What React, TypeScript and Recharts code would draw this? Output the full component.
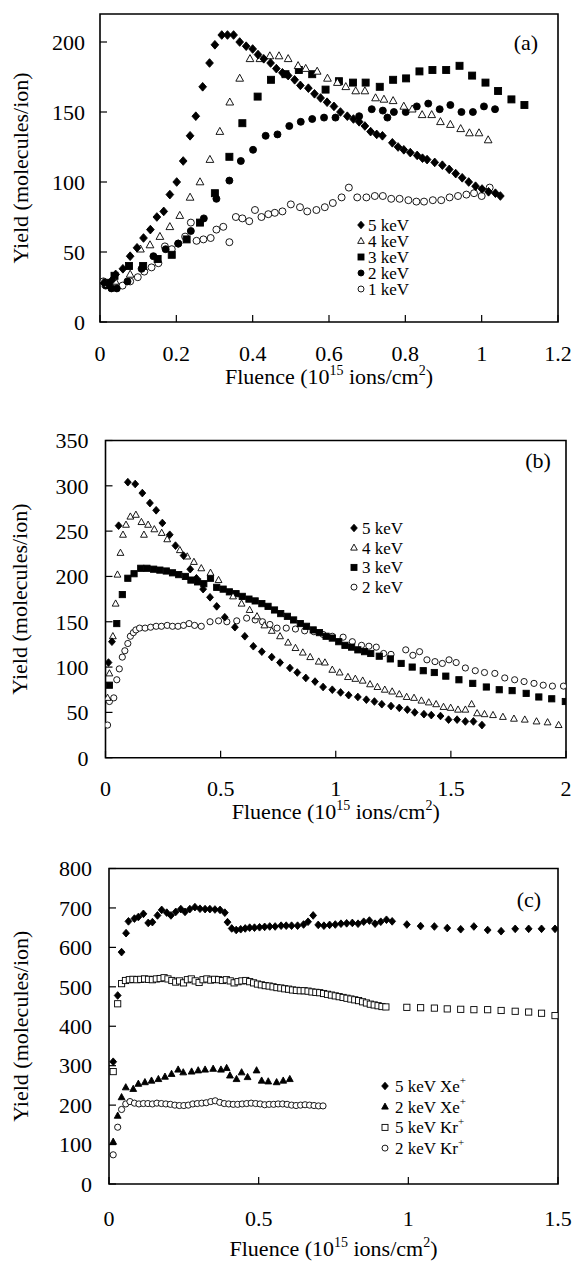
import React from 'react';
import { ScatterChart, Scatter, XAxis, YAxis, ReferenceArea } from 'recharts';

type Pt = [number, number];
type Kind = 'diamond' | 'triangle' | 'square' | 'circle';

const FONT = "'Liberation Serif', 'Times New Roman', Times, serif";

// ---- panel (a) ----
const A_5KEV: Pt[] = [
  [0.010, 28], [0.022, 27], [0.032, 30], [0.041, 34], [0.060, 38], [0.079, 47], [0.097, 53], [0.114, 60],
  [0.132, 66], [0.149, 75], [0.167, 79], [0.183, 91], [0.201, 100], [0.218, 115], [0.236, 133], [0.251, 147],
  [0.269, 168], [0.287, 185], [0.301, 198], [0.319, 205], [0.334, 205], [0.350, 205], [0.366, 200], [0.383, 197],
  [0.400, 195], [0.414, 191], [0.429, 188], [0.447, 185], [0.462, 181], [0.478, 178], [0.493, 176], [0.510, 173],
  [0.525, 169], [0.546, 167], [0.562, 163], [0.578, 160], [0.595, 157], [0.613, 154], [0.630, 150], [0.648, 147],
  [0.664, 145], [0.679, 143], [0.694, 140], [0.709, 136], [0.725, 134], [0.740, 133], [0.766, 128], [0.781, 125],
  [0.796, 123], [0.813, 121], [0.831, 119], [0.845, 117], [0.857, 116], [0.877, 114], [0.897, 112], [0.915, 109],
  [0.932, 106], [0.949, 103], [0.966, 100], [0.984, 97], [1.001, 95], [1.018, 93], [1.036, 92], [1.049, 90],
];
const A_4KEV: Pt[] = [
  [0.015, 27], [0.040, 29], [0.079, 34], [0.106, 52], [0.131, 55], [0.157, 61], [0.183, 68], [0.209, 76],
  [0.236, 89], [0.262, 100], [0.288, 116], [0.314, 136], [0.340, 157], [0.366, 174], [0.393, 188], [0.419, 188],
  [0.445, 190], [0.469, 190], [0.493, 188], [0.519, 183], [0.539, 181], [0.569, 179], [0.596, 174], [0.622, 171],
  [0.644, 168], [0.670, 165], [0.694, 165], [0.722, 160], [0.744, 159], [0.768, 158], [0.796, 154], [0.818, 152],
  [0.844, 148], [0.869, 148], [0.892, 143], [0.918, 141], [0.945, 138], [0.968, 135], [0.993, 135], [1.017, 130],
];
const A_3KEV: Pt[] = [
  [0.020, 28], [0.038, 33], [0.076, 40], [0.113, 40], [0.151, 45], [0.188, 48], [0.227, 59], [0.262, 71],
  [0.301, 92], [0.339, 118], [0.373, 142], [0.413, 161], [0.448, 173], [0.486, 177], [0.521, 180], [0.556, 177],
  [0.591, 166], [0.626, 172], [0.663, 171], [0.696, 171], [0.733, 168], [0.768, 173], [0.802, 174], [0.837, 179],
  [0.871, 180], [0.907, 180], [0.942, 183], [0.975, 176], [1.010, 171], [1.043, 165], [1.078, 159], [1.112, 155],
];
const A_2KEV: Pt[] = [
  [0.015, 26], [0.030, 24], [0.044, 24], [0.072, 29], [0.109, 38], [0.140, 47], [0.172, 52], [0.205, 56],
  [0.238, 65], [0.272, 74], [0.305, 88], [0.339, 101], [0.369, 115], [0.401, 123], [0.434, 133], [0.465, 134],
  [0.496, 140], [0.526, 143], [0.556, 145], [0.587, 146], [0.617, 146], [0.679, 147], [0.712, 152], [0.741, 151],
  [0.753, 146], [0.770, 150], [0.801, 150], [0.830, 154], [0.860, 156], [0.890, 152], [0.918, 155], [0.947, 150],
  [0.977, 150], [1.006, 154], [1.035, 152],
];
const A_1KEV: Pt[] = [
  [0.009, 29], [0.025, 26], [0.039, 25], [0.059, 26], [0.079, 29], [0.099, 32], [0.116, 36], [0.135, 39],
  [0.153, 42], [0.170, 54], [0.188, 52], [0.205, 56], [0.223, 61], [0.238, 71], [0.253, 58], [0.271, 59],
  [0.290, 60], [0.305, 66], [0.323, 68], [0.339, 57], [0.356, 75], [0.373, 74], [0.391, 72], [0.406, 80],
  [0.423, 75], [0.441, 77], [0.458, 78], [0.478, 79], [0.500, 84], [0.524, 82], [0.543, 79], [0.567, 80],
  [0.589, 82], [0.610, 85], [0.633, 89], [0.652, 96], [0.674, 89], [0.698, 89], [0.720, 90], [0.741, 90],
  [0.763, 88], [0.785, 88], [0.808, 87], [0.829, 86], [0.849, 86], [0.872, 87], [0.894, 87], [0.916, 89],
  [0.938, 90], [0.960, 91], [0.980, 92], [1.000, 90], [1.021, 96],
];

// ---- panel (b) ----
const B_5KEV: Pt[] = [
  [0.013, 105], [0.028, 128], [0.057, 256], [0.097, 304], [0.129, 302], [0.160, 292], [0.193, 281], [0.220, 273],
  [0.247, 259], [0.279, 246], [0.304, 234], [0.339, 223], [0.368, 208], [0.395, 198], [0.424, 186], [0.454, 177],
  [0.483, 167], [0.518, 155], [0.562, 144], [0.605, 134], [0.642, 123], [0.679, 117], [0.722, 111], [0.758, 105],
  [0.801, 99], [0.833, 94], [0.870, 88], [0.910, 84], [0.945, 78], [0.985, 75], [1.021, 72], [1.056, 69],
  [1.096, 67], [1.133, 64], [1.168, 62], [1.200, 59], [1.240, 57], [1.276, 55], [1.311, 53], [1.343, 50],
  [1.383, 48], [1.415, 47], [1.455, 46], [1.490, 42], [1.527, 42], [1.563, 40], [1.598, 40], [1.635, 36],
];
const B_4KEV: Pt[] = [
  [0.009, 66], [0.017, 93], [0.032, 134], [0.044, 170], [0.052, 202], [0.065, 226], [0.076, 246], [0.089, 257],
  [0.108, 266], [0.132, 268], [0.156, 260], [0.167, 246], [0.185, 257], [0.212, 252], [0.244, 248], [0.268, 241],
  [0.323, 229], [0.355, 222], [0.384, 216], [0.416, 209], [0.456, 204], [0.491, 196], [0.554, 178], [0.591, 170],
  [0.626, 163], [0.658, 156], [0.690, 146], [0.722, 140], [0.758, 134], [0.793, 127], [0.825, 121], [0.857, 116],
  [0.889, 111], [0.926, 106], [0.953, 105], [0.985, 97], [1.017, 94], [1.053, 89], [1.085, 87], [1.117, 85],
  [1.149, 81], [1.181, 78], [1.213, 75], [1.245, 73], [1.276, 70], [1.308, 67], [1.340, 66], [1.372, 63],
  [1.404, 61], [1.436, 59], [1.468, 56], [1.499, 55], [1.531, 53], [1.563, 53], [1.590, 59], [1.614, 49],
  [1.646, 48], [1.683, 47], [1.726, 45], [1.774, 43], [1.821, 42], [1.872, 40], [1.920, 39], [1.968, 36],
];
const B_3KEV: Pt[] = [
  [0.017, 80], [0.049, 148], [0.073, 180], [0.097, 198], [0.124, 203], [0.153, 209], [0.180, 209], [0.209, 208],
  [0.236, 207], [0.264, 206], [0.291, 204], [0.318, 202], [0.347, 200], [0.371, 196], [0.400, 194], [0.427, 192],
  [0.456, 198], [0.483, 188], [0.511, 186], [0.538, 183], [0.567, 181], [0.594, 178], [0.623, 175], [0.650, 173],
  [0.679, 170], [0.706, 167], [0.734, 163], [0.761, 159], [0.790, 156], [0.817, 152], [0.846, 148], [0.873, 145],
  [0.902, 141], [0.929, 138], [0.958, 134], [0.985, 132], [1.013, 128], [1.040, 124], [1.069, 122], [1.096, 119],
  [1.125, 117], [1.152, 115], [1.189, 112], [1.237, 109], [1.284, 104], [1.332, 100], [1.380, 96], [1.428, 94],
  [1.478, 90], [1.535, 86], [1.595, 82], [1.654, 78], [1.710, 75], [1.766, 74], [1.827, 71], [1.882, 67],
  [1.938, 65], [1.997, 62],
];
const B_2KEV: Pt[] = [
  [0.009, 36], [0.017, 62], [0.036, 66], [0.049, 86], [0.060, 98], [0.073, 111], [0.084, 118], [0.097, 126],
  [0.108, 134], [0.121, 138], [0.132, 141], [0.148, 143], [0.172, 143], [0.196, 144], [0.220, 145], [0.243, 145],
  [0.268, 146], [0.291, 145], [0.315, 145], [0.339, 146], [0.363, 148], [0.387, 146], [0.416, 145], [0.454, 150],
  [0.491, 151], [0.527, 150], [0.570, 151], [0.613, 154], [0.650, 152], [0.682, 150], [0.714, 147], [0.745, 143],
  [0.785, 143], [0.825, 142], [0.865, 140], [0.905, 139], [0.945, 136], [0.985, 134], [1.032, 133], [1.072, 128],
  [1.112, 124], [1.144, 123], [1.176, 122], [1.208, 115], [1.240, 114], [1.304, 119], [1.335, 113], [1.364, 117],
  [1.396, 108], [1.431, 106], [1.463, 104], [1.492, 108], [1.523, 105], [1.563, 99], [1.606, 96], [1.646, 94],
  [1.691, 93], [1.734, 88], [1.777, 86], [1.818, 84], [1.861, 82], [1.901, 80], [1.941, 79], [1.989, 79],
];

// ---- panel (c) ----
const C_XE5: Pt[] = [
  [0.014, 310], [0.029, 478], [0.042, 588], [0.057, 636], [0.065, 666], [0.085, 673], [0.098, 677], [0.115, 685],
  [0.131, 662], [0.145, 664], [0.162, 681], [0.176, 695], [0.193, 688], [0.207, 681], [0.223, 690], [0.240, 697],
  [0.254, 690], [0.270, 697], [0.287, 702], [0.304, 698], [0.321, 697], [0.337, 697], [0.354, 696], [0.371, 695],
  [0.387, 688], [0.396, 664], [0.410, 648], [0.425, 644], [0.440, 646], [0.455, 648], [0.470, 650], [0.486, 650],
  [0.503, 651], [0.520, 652], [0.537, 653], [0.555, 653], [0.575, 655], [0.592, 655], [0.610, 655], [0.630, 655],
  [0.650, 658], [0.665, 665], [0.682, 681], [0.699, 657], [0.718, 655], [0.737, 657], [0.756, 658], [0.775, 660],
  [0.794, 661], [0.813, 662], [0.832, 660], [0.851, 665], [0.870, 668], [0.889, 660], [0.908, 665], [0.927, 670],
  [0.946, 666], [0.995, 658], [1.041, 654], [1.087, 653], [1.130, 649], [1.175, 646], [1.219, 653], [1.265, 644],
  [1.310, 641], [1.357, 647], [1.402, 647], [1.445, 647], [1.490, 647],
];
const C_XE2: Pt[] = [
  [0.014, 107], [0.029, 173], [0.042, 220], [0.056, 245], [0.081, 241], [0.098, 254], [0.120, 258], [0.142, 262],
  [0.165, 266], [0.187, 272], [0.209, 279], [0.231, 290], [0.248, 283], [0.276, 285], [0.298, 288], [0.321, 290],
  [0.348, 292], [0.374, 290], [0.393, 294], [0.404, 275], [0.426, 266], [0.443, 283], [0.463, 271], [0.493, 288],
  [0.510, 262], [0.532, 260], [0.560, 258], [0.582, 262], [0.604, 266],
];
const C_KR5: Pt[] = [
  [0.014, 285], [0.029, 457], [0.042, 508], [0.055, 516], [0.068, 518], [0.080, 519], [0.093, 518], [0.106, 519],
  [0.119, 520], [0.132, 519], [0.145, 518], [0.158, 520], [0.171, 521], [0.184, 523], [0.197, 520], [0.210, 516],
  [0.223, 512], [0.236, 515], [0.249, 510], [0.262, 518], [0.275, 520], [0.288, 515], [0.301, 511], [0.314, 518],
  [0.327, 520], [0.340, 517], [0.353, 519], [0.366, 518], [0.379, 516], [0.392, 518], [0.405, 515], [0.418, 510],
  [0.431, 513], [0.444, 515], [0.457, 516], [0.470, 513], [0.483, 510], [0.496, 507], [0.509, 505], [0.522, 503],
  [0.535, 502], [0.548, 500], [0.561, 498], [0.574, 497], [0.587, 495], [0.600, 494], [0.613, 492], [0.626, 491],
  [0.639, 490], [0.652, 490], [0.665, 489], [0.678, 487], [0.691, 486], [0.704, 485], [0.717, 483], [0.730, 481],
  [0.743, 479], [0.756, 477], [0.769, 475], [0.782, 473], [0.795, 471], [0.808, 469], [0.821, 467], [0.834, 465],
  [0.847, 462], [0.860, 459], [0.873, 456], [0.886, 454], [0.899, 452], [0.912, 450], [0.925, 449], [0.995, 448],
  [1.041, 447], [1.087, 446], [1.130, 444], [1.175, 443], [1.219, 442], [1.265, 442], [1.310, 440], [1.357, 438],
  [1.402, 436], [1.445, 433], [1.490, 427],
];
const C_KR2: Pt[] = [
  [0.014, 74], [0.029, 144], [0.042, 189], [0.056, 203], [0.070, 209], [0.085, 205], [0.100, 203], [0.115, 204],
  [0.130, 204], [0.145, 203], [0.160, 205], [0.175, 204], [0.190, 203], [0.205, 202], [0.220, 200], [0.235, 199],
  [0.250, 199], [0.265, 200], [0.280, 203], [0.295, 204], [0.310, 205], [0.325, 206], [0.340, 209], [0.355, 211],
  [0.370, 207], [0.385, 204], [0.400, 203], [0.415, 202], [0.430, 202], [0.445, 203], [0.460, 204], [0.475, 205],
  [0.490, 204], [0.505, 203], [0.520, 201], [0.535, 202], [0.550, 202], [0.565, 203], [0.580, 203], [0.595, 202],
  [0.610, 200], [0.625, 199], [0.640, 200], [0.655, 201], [0.670, 200], [0.685, 199], [0.700, 198], [0.715, 198],
];

const A_X_TICKS = [0, 0.2, 0.4, 0.6, 0.8, 1, 1.2];
const A_Y_TICKS = [0, 50, 100, 150, 200];
const B_X_TICKS = [0, 0.5, 1, 1.5, 2];
const B_Y_TICKS = [0, 50, 100, 150, 200, 250, 300, 350];
const C_X_TICKS = [0, 0.5, 1, 1.5];
const C_Y_TICKS = [0, 100, 200, 300, 400, 500, 600, 700, 800];

const A_LABELS = ['5 keV', '4 keV', '3 keV', '2 keV', '1 keV'];
const B_LABELS = ['5 keV', '4 keV', '3 keV', '2 keV'];
const C_LABELS = ['5 keV Xe', '2 keV Xe', '5 keV Kr', '2 keV Kr'];

interface MarkerProps {
  cx?: number;
  cy?: number;
  kind: Kind;
  filled: boolean;
  s: number;
}

function Marker({ cx = 0, cy = 0, kind, filled, s }: MarkerProps) {
  const fill = filled ? '#000' : '#fff';
  const common = { fill, stroke: '#000', strokeWidth: 0.9 };
  if (kind === 'diamond') {
    const w = s * 0.55;
    const h = s * 0.62;
    return <polygon points={`${cx},${cy - h} ${cx + w},${cy} ${cx},${cy + h} ${cx - w},${cy}`} {...common} />;
  }
  if (kind === 'triangle') {
    const w = s * 0.55;
    return <polygon points={`${cx},${cy - s * 0.6} ${cx + w},${cy + s * 0.4} ${cx - w},${cy + s * 0.4}`} {...common} />;
  }
  if (kind === 'square') {
    return <rect x={cx - s / 2} y={cy - s / 2} width={s} height={s} {...common} />;
  }
  return <circle cx={cx} cy={cy} r={s / 2} {...common} />;
}

interface SeriesDef {
  data: Pt[];
  kind: Kind;
  filled: boolean;
}

interface PanelProps {
  top: number;
  height: number;
  left: number;
  right: number;
  plotTop: number;
  plotBottom: number;
  xDomain: [number, number];
  yDomain: [number, number];
  xTicks: number[];
  yTicks: number[];
  series: SeriesDef[];
  size: number;
  xTickMargin: number;
  yTickMargin: number;
  titleBaseline: number;
}

const tickStyle = { fill: '#000', fontSize: 22, fontFamily: FONT };

function Panel(p: PanelProps) {
  const xAxisHeight = p.top + p.height - p.plotBottom;
  const titleX = (p.left + p.right) / 2;
  const titleY = p.titleBaseline - p.top;
  const yTitleY = (p.plotTop + p.plotBottom) / 2 - p.top;

  const xTitle = () => (
    <text x={titleX} y={titleY} textAnchor="middle" fontSize={22} fontFamily={FONT} fill="#000">
      Fluence (10
      <tspan dy={-9} fontSize={14}>15</tspan>
      <tspan dy={9}> ions/cm</tspan>
      <tspan dy={-9} fontSize={14}>2</tspan>
      <tspan dy={9}>)</tspan>
    </text>
  );
  const yTitle = () => (
    <text
      x={20}
      y={yTitleY}
      transform={`rotate(-90, 20, ${yTitleY})`}
      textAnchor="middle"
      dominantBaseline="central"
      fontSize={22}
      fontFamily={FONT}
      fill="#000"
    >
      Yield (molecules/ion)
    </text>
  );

  return (
    <div style={{ position: 'absolute', left: 0, top: p.top }}>
      <ScatterChart
        width={576}
        height={p.height}
        margin={{ top: p.plotTop - p.top, right: 576 - p.right, bottom: 0, left: 0 }}
      >
        <XAxis
          type="number"
          dataKey="x"
          domain={p.xDomain}
          ticks={p.xTicks}
          interval={0}
          height={xAxisHeight}
          axisLine={false}
          tickSize={-7}
          tickMargin={p.xTickMargin}
          tickLine={{ stroke: '#000', strokeWidth: 1.2 }}
          tick={tickStyle}
          tickFormatter={(v: number) => String(v)}
          label={xTitle}
          allowDataOverflow
        />
        <YAxis
          type="number"
          dataKey="y"
          domain={p.yDomain}
          ticks={p.yTicks}
          interval={0}
          width={p.left}
          axisLine={false}
          tickSize={-7}
          tickMargin={p.yTickMargin}
          tickLine={{ stroke: '#000', strokeWidth: 1.2 }}
          tick={tickStyle}
          label={yTitle}
          allowDataOverflow
        />
        <ReferenceArea
          x1={p.xDomain[0]}
          x2={p.xDomain[1]}
          y1={p.yDomain[0]}
          y2={p.yDomain[1]}
          fill="none"
          fillOpacity={0}
          stroke="#000"
          strokeWidth={1.6}
          ifOverflow="visible"
        />
        {p.series.map((s, i) => (
          <Scatter
            key={i}
            data={s.data.map(([x, y]) => ({ x, y }))}
            isAnimationActive={false}
            shape={(props: any) => (
              <Marker cx={props.cx} cy={props.cy} kind={s.kind} filled={s.filled} s={p.size} />
            )}
          />
        ))}
      </ScatterChart>
    </div>
  );
}

const A_SERIES: SeriesDef[] = [
  { data: A_1KEV, kind: 'circle', filled: false },
  { data: A_2KEV, kind: 'circle', filled: true },
  { data: A_3KEV, kind: 'square', filled: true },
  { data: A_4KEV, kind: 'triangle', filled: false },
  { data: A_5KEV, kind: 'diamond', filled: true },
];
const B_SERIES: SeriesDef[] = [
  { data: B_2KEV, kind: 'circle', filled: false },
  { data: B_3KEV, kind: 'square', filled: true },
  { data: B_4KEV, kind: 'triangle', filled: false },
  { data: B_5KEV, kind: 'diamond', filled: true },
];
const C_SERIES: SeriesDef[] = [
  { data: C_KR2, kind: 'circle', filled: false },
  { data: C_KR5, kind: 'square', filled: false },
  { data: C_XE2, kind: 'triangle', filled: true },
  { data: C_XE5, kind: 'diamond', filled: true },
];

const A_LEGEND: { kind: Kind; filled: boolean }[] = [
  { kind: 'diamond', filled: true },
  { kind: 'triangle', filled: false },
  { kind: 'square', filled: true },
  { kind: 'circle', filled: true },
  { kind: 'circle', filled: false },
];
const B_LEGEND: { kind: Kind; filled: boolean }[] = [
  { kind: 'diamond', filled: true },
  { kind: 'triangle', filled: false },
  { kind: 'square', filled: true },
  { kind: 'circle', filled: false },
];
const C_LEGEND: { kind: Kind; filled: boolean }[] = [
  { kind: 'diamond', filled: true },
  { kind: 'triangle', filled: true },
  { kind: 'square', filled: false },
  { kind: 'circle', filled: false },
];

function LegendBlock({
  labels,
  markers,
  mx,
  tx,
  y0,
  dy,
  sup,
}: {
  labels: string[];
  markers: { kind: Kind; filled: boolean }[];
  mx: number;
  tx: number;
  y0: number;
  dy: number;
  sup?: boolean;
}) {
  return (
    <g>
      {labels.map((l, i) => {
        const cy = y0 + i * dy;
        return (
          <g key={l + i}>
            <Marker cx={mx} cy={cy} kind={markers[i].kind} filled={markers[i].filled} s={6} />
            <text x={tx} y={cy + 6} fontSize={17} fontFamily={FONT} fill="#000">
              {l}
              {sup && <tspan dy={-8} fontSize={11}>+</tspan>}
            </text>
          </g>
        );
      })}
    </g>
  );
}

export default function App() {
  return (
    <div style={{ position: 'absolute', left: 0, top: 0, width: 576, height: 1263, background: '#fff' }}>
      <Panel
        top={0}
        height={400}
        left={100}
        right={558}
        plotTop={14}
        plotBottom={322}
        xDomain={[0, 1.2]}
        yDomain={[0, 220]}
        xTicks={A_X_TICKS}
        yTicks={A_Y_TICKS}
        series={A_SERIES}
        size={7}
        xTickMargin={30}
        yTickMargin={22}
        titleBaseline={384}
      />
      <Panel
        top={400}
        height={430}
        left={105.5}
        right={566}
        plotTop={440.5}
        plotBottom={757.7}
        xDomain={[0, 2]}
        yDomain={[0, 350]}
        xTicks={B_X_TICKS}
        yTicks={B_Y_TICKS}
        series={B_SERIES}
        size={6.2}
        xTickMargin={30}
        yTickMargin={24}
        titleBaseline={819}
      />
      <Panel
        top={830}
        height={433}
        left={109}
        right={558}
        plotTop={868.5}
        plotBottom={1184}
        xDomain={[0, 1.5]}
        yDomain={[0, 800]}
        xTicks={C_X_TICKS}
        yTicks={C_Y_TICKS}
        series={C_SERIES}
        size={6.2}
        xTickMargin={33}
        yTickMargin={24}
        titleBaseline={1256}
      />
      <svg
        width={576}
        height={1263}
        style={{ position: 'absolute', left: 0, top: 0, pointerEvents: 'none' }}
      >
        <text x={526} y={50} textAnchor="middle" fontSize={22} fontFamily={FONT} fill="#000">(a)</text>
        <text x={538} y={468} textAnchor="middle" fontSize={22} fontFamily={FONT} fill="#000">(b)</text>
        <text x={529} y={907} textAnchor="middle" fontSize={22} fontFamily={FONT} fill="#000">(c)</text>
        <LegendBlock labels={A_LABELS} markers={A_LEGEND} mx={361} tx={368} y0={225} dy={16} />
        <LegendBlock labels={B_LABELS} markers={B_LEGEND} mx={354} tx={362} y0={528} dy={19.7} />
        <LegendBlock labels={C_LABELS} markers={C_LEGEND} mx={385} tx={395} y0={1086} dy={20.7} sup />
      </svg>
    </div>
  );
}
